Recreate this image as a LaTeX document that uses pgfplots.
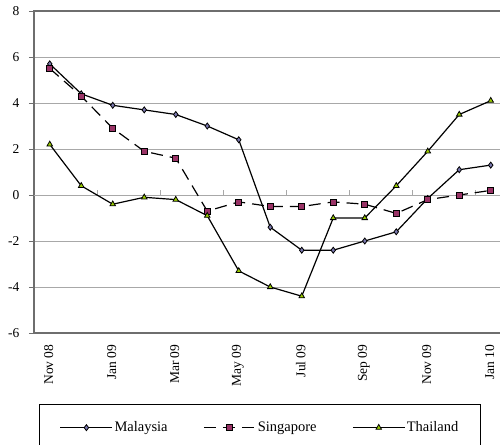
\documentclass[border=0pt]{standalone}
\usepackage{fontspec}
\setmainfont{Liberation Serif}
\usepackage{pgfplots}
\pgfplotsset{compat=1.18}
\usepackage{pgfplotstable}

\definecolor{mycol}{HTML}{7A78AE}
\definecolor{sgcol}{HTML}{993366}
\definecolor{thcol}{HTML}{99CC00}
\definecolor{gridc}{HTML}{A8A8A8}
\definecolor{framec}{HTML}{6E6E6E}

% month index: 0 = Nov 08 ... 14 = Jan 10
\pgfplotstableread{
m  mal   sgp   tha
0   5.7   5.5   2.2
1   4.4   4.3   0.4
2   3.9   2.9  -0.4
3   3.7   1.9  -0.1
4   3.5   1.6  -0.2
5   3.0  -0.7  -0.9
6   2.4  -0.3  -3.3
7  -1.4  -0.5  -4.0
8  -2.4  -0.5  -4.4
9  -2.4  -0.3  -1.0
10 -2.0  -0.4  -1.0
11 -1.6  -0.8   0.4
12 -0.15 -0.2   1.9
13  1.1   0.0   3.5
14  1.3   0.2   4.1
}\rates

\begin{document}
\begin{tikzpicture}
\begin{axis}[
  name=ax,
  scale only axis,
  width=472.5pt, height=322pt,
  xmin=-0.5, xmax=14.5,
  ymin=-6, ymax=8,
  xtick={0,2,...,14},
  xticklabels={Nov 08,Jan 09,Mar 09,May 09,Jul 09,Sep 09,Nov 09,Jan 10},
  x tick label style={rotate=90, anchor=east, font=\fontsize{13.5}{15}\selectfont},
  major x tick style={draw=none},
  ytick={-6,-4,...,8},
  yticklabels={-6,-4,-2,0,2,4,6,8},
  y tick label style={font=\fontsize{13.5}{15}\selectfont},
  tick align=outside,
  major tick length=5pt,
  ytick style={framec, line width=0.8pt},
  ymajorgrids,
  grid style={gridc, line width=0.9pt},
  axis line style={framec, line width=1.2pt},
  % shifts act in the rotated frame: x = down the page, y = to the left
  xticklabel style={xshift=-3pt, yshift=1pt},
  yticklabel style={xshift=-6pt},
  legend image code/.code={
    \draw[mark repeat=2, mark phase=2, #1] plot coordinates {(0pt,0pt) (26pt,0pt) (52pt,0pt)};
  },
  legend columns=3,
  legend style={
    at={(0.478,0)}, anchor=north, yshift=-71pt,
    draw=black, line width=0.8pt,
    inner xsep=20pt, inner ysep=16pt,
    font=\fontsize{14.5}{16}\selectfont,
    nodes={inner sep=1.5pt},
    /tikz/column 2/.style={column sep=34pt},
    /tikz/column 4/.style={column sep=34pt},
  },
]
\draw[gridc, line width=1pt] (axis cs:-0.5,0) -- (axis cs:14.5,0);
\pgfplotsinvokeforeach{1.5,3.5,5.5,7.5,9.5,11.5,13.5}{
  \draw[gridc, line width=1pt] (axis cs:#1,0) -- ++(0pt,5pt);
}
\addplot[black, line width=1.2pt, mark=diamond*, mark size=3pt,
  mark options={solid, fill=mycol, draw=black, line width=0.8pt}]
  table[x=m, y=mal] {\rates};
\addlegendentry{Malaysia}
\addplot[black, line width=1.2pt, dash pattern=on 12pt off 7pt, mark=square*, mark size=3pt,
  mark options={solid, fill=sgcol, draw=black, line width=0.8pt}]
  table[x=m, y=sgp] {\rates};
\addlegendentry{Singapore}
\addplot[black, line width=1.2pt, mark=triangle*, mark size=3.2pt,
  mark options={solid, fill=thcol, draw=black, line width=0.8pt}]
  table[x=m, y=tha] {\rates};
\addlegendentry{Thailand}
\end{axis}
\pgfresetboundingbox
\path ([xshift=-34pt,yshift=-111pt]ax.south west) rectangle ([xshift=-6.5pt,yshift=11pt]ax.north east);
\end{tikzpicture}
\end{document}
